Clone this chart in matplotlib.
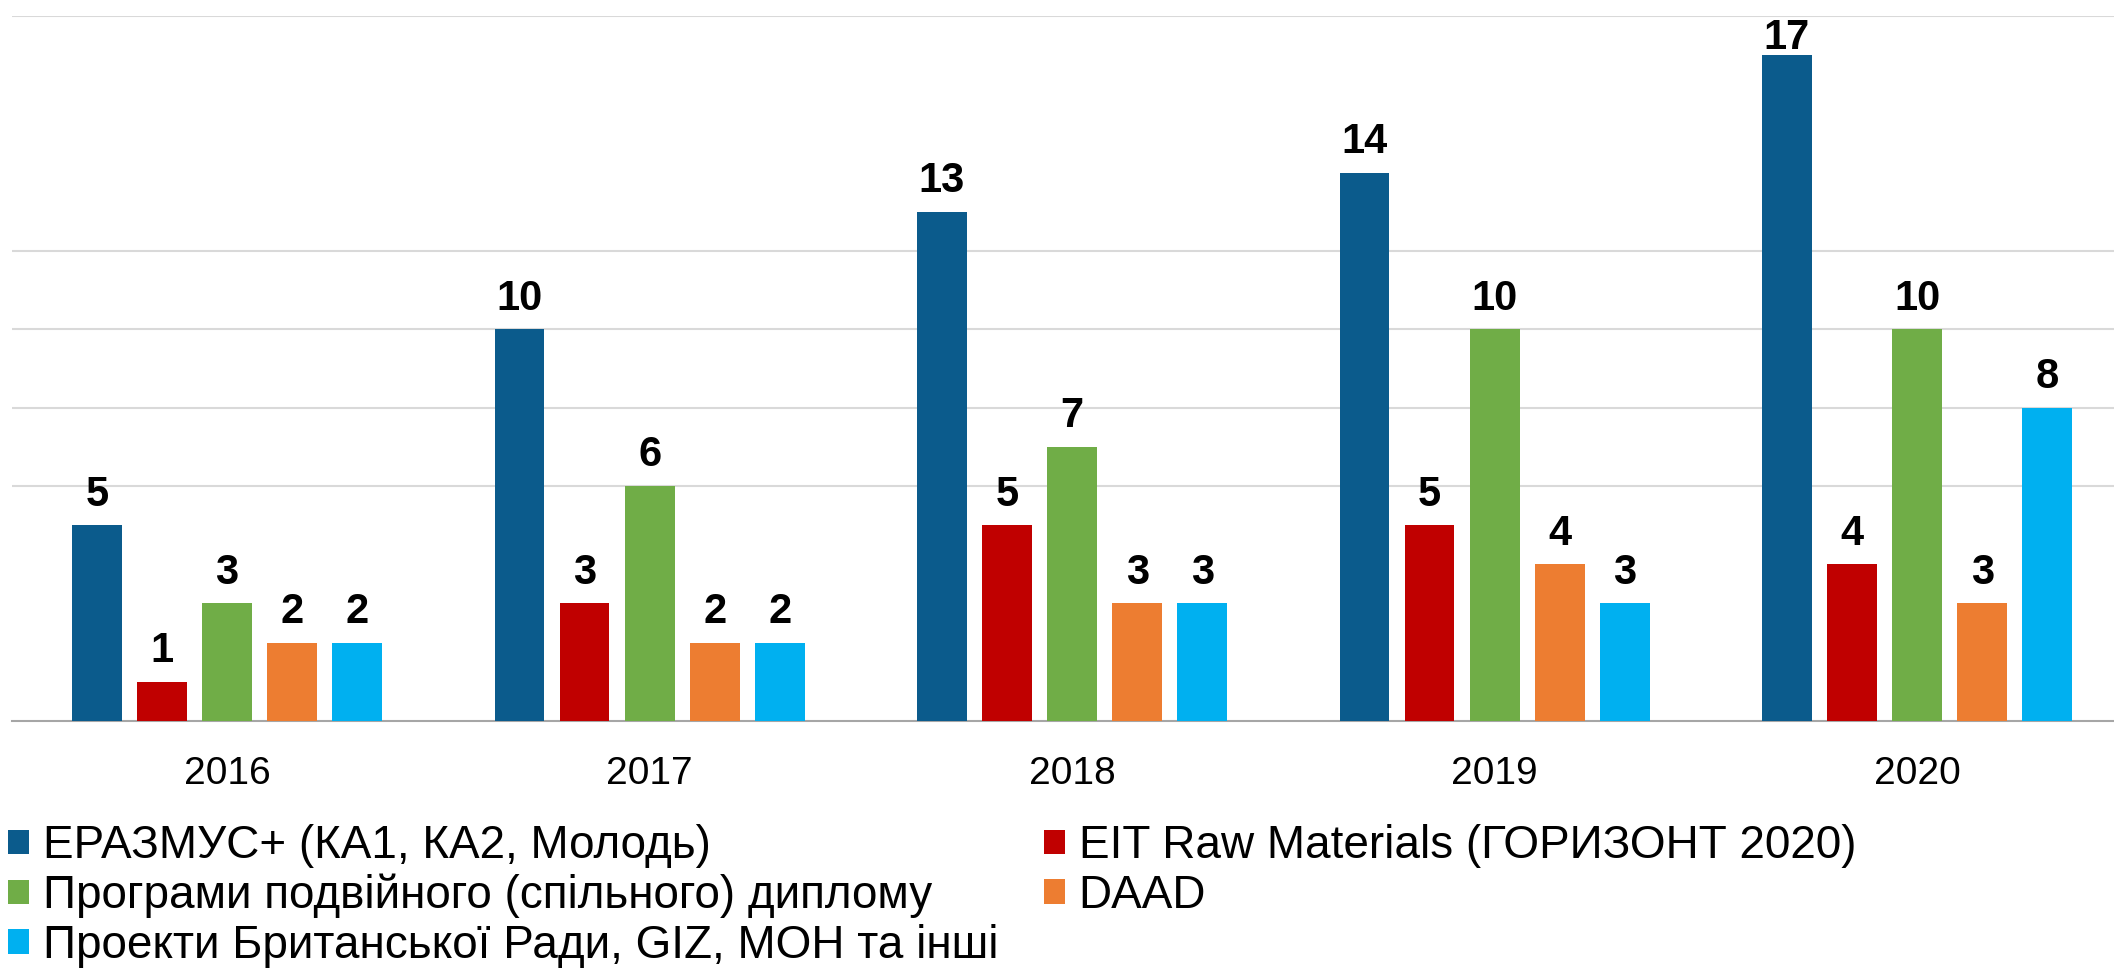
import matplotlib
matplotlib.use("Agg")
import matplotlib.pyplot as plt
import numpy as np

# Дані
years = ["2016", "2017", "2018", "2019", "2020"]
series_names = [
    "ЕРАЗМУС+ (КА1, КА2, Молодь)",
    "EIT Raw Materials (ГОРИЗОНТ 2020)",
    "Програми подвійного (спільного) диплому",
    "DAAD",
    "Проекти Британської Ради, GIZ, МОН та інші",
]
erasmus = [5, 10, 13, 14, 17]
eit = [1, 3, 5, 5, 4]
double_diploma = [3, 6, 7, 10, 10]
daad = [2, 2, 3, 4, 3]
british = [2, 2, 3, 3, 8]
grid_levels = [6, 8, 10, 12, 18]

colors = ["#0B5B8C", "#C00000", "#70AD47", "#ED7D31", "#00B0F0"]

plt.rcParams['font.family'] = ['Liberation Sans', 'DejaVu Sans']

fig = plt.figure(figsize=(21.14, 9.8), dpi=100)
ax = fig.add_axes([0.0057, 0.2643, 0.9943, 0.7194])

x = np.arange(len(years))
pitch = 0.154
width = 0.118
y_max = 18
all_series = [erasmus, eit, double_diploma, daad, british]
handles = []
for i, (vals, col, name) in enumerate(zip(all_series, colors, series_names)):
    pos = x + (i - 2) * pitch
    b = ax.bar(pos, vals, width, color=col, label=name, zorder=3)
    handles.append(b)
    for px, v in zip(pos, vals):
        # підпис над стовпчиком, але не вище верхньої межі
        ty = min(v + 0.5, y_max - 0.85)
        ax.text(px, ty, str(v), ha='center', va='baseline',
                fontsize=30, fontweight='bold', color='black', zorder=4)

ax.set_xlim(-0.509, 4.466)
ax.set_ylim(0, y_max)
ax.set_yticks(grid_levels)
ax.yaxis.grid(True, color='#d9d9d9', linewidth=1.5, zorder=0)
ax.tick_params(axis='y', left=False, labelleft=False)
ax.set_xticks(x)
ax.set_xticklabels(years, fontsize=28)
ax.tick_params(axis='x', length=0, pad=25)
for side in ['top', 'right', 'left']:
    ax.spines[side].set_visible(False)
ax.spines['bottom'].set_color('#a6a6a6')
ax.spines['bottom'].set_linewidth(1.5)

# Легенда: два стовпчики
leg_kw = dict(loc='upper left', frameon=False, fontsize=33,
              handlelength=0.45, handleheight=0.45, handletextpad=0.3,
              labelspacing=0.12, borderaxespad=0, borderpad=0)
left_idx = [0, 2, 4]
right_idx = [1, 3]
leg1 = fig.legend([handles[i] for i in left_idx], [series_names[i] for i in left_idx],
                  bbox_to_anchor=(0.004, 0.159), **leg_kw)
leg2 = fig.legend([handles[i] for i in right_idx], [series_names[i] for i in right_idx],
                  bbox_to_anchor=(0.494, 0.159), **leg_kw)

fig.savefig("out.png", dpi=100)
